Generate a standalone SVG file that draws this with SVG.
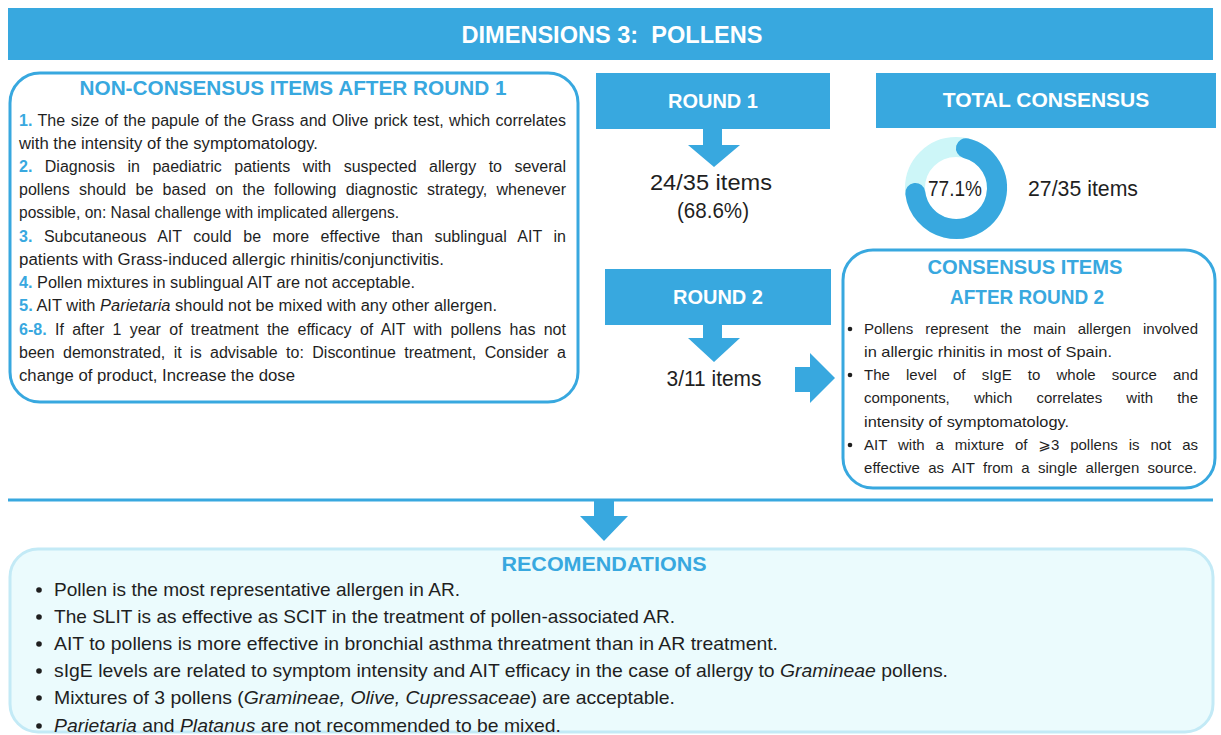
<svg xmlns="http://www.w3.org/2000/svg" width="1221" height="735" viewBox="0 0 1221 735">
<style>
.bg{fill:#ffffff}
.band{fill:#38a8df}
.hw{font-family:"Liberation Sans",Arial,sans-serif;font-weight:bold;fill:#ffffff;text-anchor:middle}
.hb{font-family:"Liberation Sans",Arial,sans-serif;font-weight:bold;fill:#38a8df;text-anchor:middle}
.t{font-family:"Liberation Sans",Arial,"DejaVu Sans",sans-serif;font-size:16px;fill:#1f1f1f}
.c{font-family:"Liberation Sans",Arial,"DejaVu Sans",sans-serif;font-size:15px;fill:#1f1f1f}
.n{fill:#38a8df;font-weight:bold}
.big{font-family:"Liberation Sans",Arial,sans-serif;font-size:22px;fill:#1f1f1f;text-anchor:middle}
.r{font-family:"Liberation Sans",Arial,sans-serif;font-size:18.5px;fill:#1f1f1f}
.box{fill:#ffffff;stroke:#38a8df;stroke-width:3}
.arrow{fill:#38a8df}
.dot{fill:#1f1f1f}
</style>
<rect class="bg" x="0" y="0" width="1221" height="735"/>

<g id="title">
<rect class="band" x="8" y="8" width="1205" height="52"/>
<text class="hw" x="612" y="43" font-size="23.5" style="white-space:pre" textLength="301" lengthAdjust="spacingAndGlyphs">DIMENSIONS 3:  POLLENS</text>
</g>

<g id="non-consensus">
<rect class="box" x="10" y="73" width="568" height="329" rx="30"/>
<text class="hb" x="293" y="95" font-size="20" textLength="427" lengthAdjust="spacingAndGlyphs">NON-CONSENSUS ITEMS AFTER ROUND 1</text>
<text class="t" x="19" y="126" word-spacing="1" textLength="547" lengthAdjust="spacing"><tspan class="n">1.</tspan> The size of the papule of the Grass and Olive prick test, which correlates</text>
<text class="t" x="19" y="149" textLength="299" lengthAdjust="spacingAndGlyphs">with the intensity of the symptomatology.</text>
<text class="t" x="19" y="172" word-spacing="8" textLength="547" lengthAdjust="spacing"><tspan class="n">2.</tspan> Diagnosis in paediatric patients with suspected allergy to several</text>
<text class="t" x="19" y="195" word-spacing="4.8" textLength="547" lengthAdjust="spacing">pollens should be based on the following diagnostic strategy, whenever</text>
<text class="t" x="19" y="218" textLength="380" lengthAdjust="spacingAndGlyphs">possible, on: Nasal challenge with implicated allergens.</text>
<text class="t" x="19" y="242" word-spacing="7" textLength="547" lengthAdjust="spacing"><tspan class="n">3.</tspan> Subcutaneous AIT could be more effective than sublingual AIT in</text>
<text class="t" x="19" y="265" textLength="425" lengthAdjust="spacingAndGlyphs">patients with Grass-induced allergic rhinitis/conjunctivitis.</text>
<text class="t" x="19" y="288" textLength="396" lengthAdjust="spacingAndGlyphs"><tspan class="n">4.</tspan> Pollen mixtures in sublingual AIT are not acceptable.</text>
<text class="t" x="19" y="311" textLength="478" lengthAdjust="spacingAndGlyphs"><tspan class="n">5.</tspan> AIT with <tspan font-style="italic">Parietaria</tspan> should not be mixed with any other allergen.</text>
<text class="t" x="19" y="335" word-spacing="3.8" textLength="547" lengthAdjust="spacing"><tspan class="n">6-8.</tspan> If after 1 year of treatment the efficacy of AIT with pollens has not</text>
<text class="t" x="19" y="358" word-spacing="4" textLength="547" lengthAdjust="spacing">been demonstrated, it is advisable to: Discontinue treatment, Consider a</text>
<text class="t" x="19" y="381" textLength="276" lengthAdjust="spacingAndGlyphs">change of product, Increase the dose</text>
</g>

<g id="round1">
<rect class="band" x="596" y="73" width="234" height="56"/>
<text class="hw" x="713" y="108" font-size="20">ROUND 1</text>
<text class="big" x="711" y="190" textLength="122" lengthAdjust="spacingAndGlyphs">24/35 items</text>
<text class="big" x="713" y="218" textLength="72" lengthAdjust="spacingAndGlyphs">(68.6%)</text>
</g>

<g id="total-consensus">
<rect class="band" x="876" y="73" width="340" height="55"/>
<text class="hw" x="1046" y="107" font-size="21">TOTAL CONSENSUS</text>
<circle cx="956" cy="188" r="41" fill="none" stroke="#cdf6f8" stroke-width="20"/>
<circle cx="956" cy="188" r="41" fill="none" stroke="#38a8df" stroke-width="20" stroke-linecap="round" pathLength="360" stroke-dasharray="249 400" transform="rotate(-76 956 188)"/>
<text class="big" x="955" y="196" font-size="21" textLength="54" lengthAdjust="spacingAndGlyphs">77.1%</text>
<text class="big" x="1083" y="196" textLength="110" lengthAdjust="spacingAndGlyphs">27/35 items</text>
</g>

<g id="round2">
<rect class="band" x="605" y="269" width="226" height="56"/>
<text class="hw" x="718" y="304" font-size="20">ROUND 2</text>
<text class="big" x="714" y="386" textLength="95" lengthAdjust="spacingAndGlyphs">3/11 items</text>
</g>

<g id="consensus-items">
<rect class="box" x="843" y="250" width="372" height="238" rx="30"/>
<text class="hb" x="1025" y="274" font-size="20" textLength="195" lengthAdjust="spacingAndGlyphs">CONSENSUS ITEMS</text>
<text class="hb" x="1027" y="304" font-size="19.5" textLength="154" lengthAdjust="spacingAndGlyphs">AFTER ROUND 2</text>
<circle class="dot" cx="850" cy="329" r="2.3"/>
<circle class="dot" cx="850" cy="375" r="2.3"/>
<circle class="dot" cx="850" cy="445" r="2.3"/>
<text class="c" x="864" y="334" word-spacing="7.8" textLength="334" lengthAdjust="spacing">Pollens represent the main allergen involved</text>
<text class="c" x="864" y="357" textLength="248" lengthAdjust="spacingAndGlyphs">in allergic rhinitis in most of Spain.</text>
<text class="c" x="864" y="380" word-spacing="12" textLength="334" lengthAdjust="spacing">The level of sIgE to whole source and</text>
<text class="c" x="864" y="403" word-spacing="20" textLength="334" lengthAdjust="spacing">components, which correlates with the</text>
<text class="c" x="864" y="427" textLength="205" lengthAdjust="spacingAndGlyphs">intensity of symptomatology.</text>
<text class="c" x="864" y="450" word-spacing="6.7" textLength="334" lengthAdjust="spacing">AIT with a mixture of ⩾3 pollens is not as</text>
<text class="c" x="864" y="473" word-spacing="4" textLength="333" lengthAdjust="spacing">effective as AIT from a single allergen source.</text>
</g>

<g id="recommendations">
<rect x="10" y="549" width="1203" height="183" rx="28" fill="#ebfbfd" stroke="#c3eaf6" stroke-width="3"/>
<text class="hb" x="604" y="571" font-size="21" textLength="205" lengthAdjust="spacingAndGlyphs">RECOMENDATIONS</text>
<circle class="dot" cx="39" cy="590" r="2.8"/>
<circle class="dot" cx="39" cy="617" r="2.8"/>
<circle class="dot" cx="39" cy="644" r="2.8"/>
<circle class="dot" cx="39" cy="671" r="2.8"/>
<circle class="dot" cx="39" cy="698" r="2.8"/>
<circle class="dot" cx="39" cy="726" r="2.8"/>
<text class="r" x="54" y="596" textLength="406" lengthAdjust="spacingAndGlyphs">Pollen is the most representative allergen in AR.</text>
<text class="r" x="54" y="623" textLength="621" lengthAdjust="spacingAndGlyphs">The SLIT is as effective as SCIT in the treatment of pollen-associated AR.</text>
<text class="r" x="54" y="650" textLength="724" lengthAdjust="spacingAndGlyphs">AIT to pollens is more effective in bronchial asthma threatment than in AR treatment.</text>
<text class="r" x="54" y="677" textLength="894" lengthAdjust="spacingAndGlyphs">sIgE levels are related to symptom intensity and AIT efficacy in the case of allergy to <tspan font-style="italic">Gramineae</tspan> pollens.</text>
<text class="r" x="54" y="704" textLength="621" lengthAdjust="spacingAndGlyphs">Mixtures of 3 pollens (<tspan font-style="italic">Gramineae, Olive, Cupressaceae</tspan>) are acceptable.</text>
<text class="r" x="54" y="732" textLength="507" lengthAdjust="spacingAndGlyphs"><tspan font-style="italic">Parietaria</tspan> and <tspan font-style="italic">Platanus</tspan> are not recommended to be mixed.</text>
</g>

<g id="connectors">
<polygon class="arrow" points="703,129 722,129 722,145 740,145 714,167 688,145 703,145"/>
<polygon class="arrow" points="703,325 722,325 722,338 740,338 714,362 688,338 703,338"/>
<polygon class="arrow" points="795,367 810,367 810,353 835,378 810,403 810,392 795,392"/>
<line x1="8" y1="500" x2="1213" y2="500" stroke="#38a8df" stroke-width="3"/>
<polygon class="arrow" points="594,500 614,500 614,516 628,516 604,541 580,516 594,516"/>
</g>
</svg>
